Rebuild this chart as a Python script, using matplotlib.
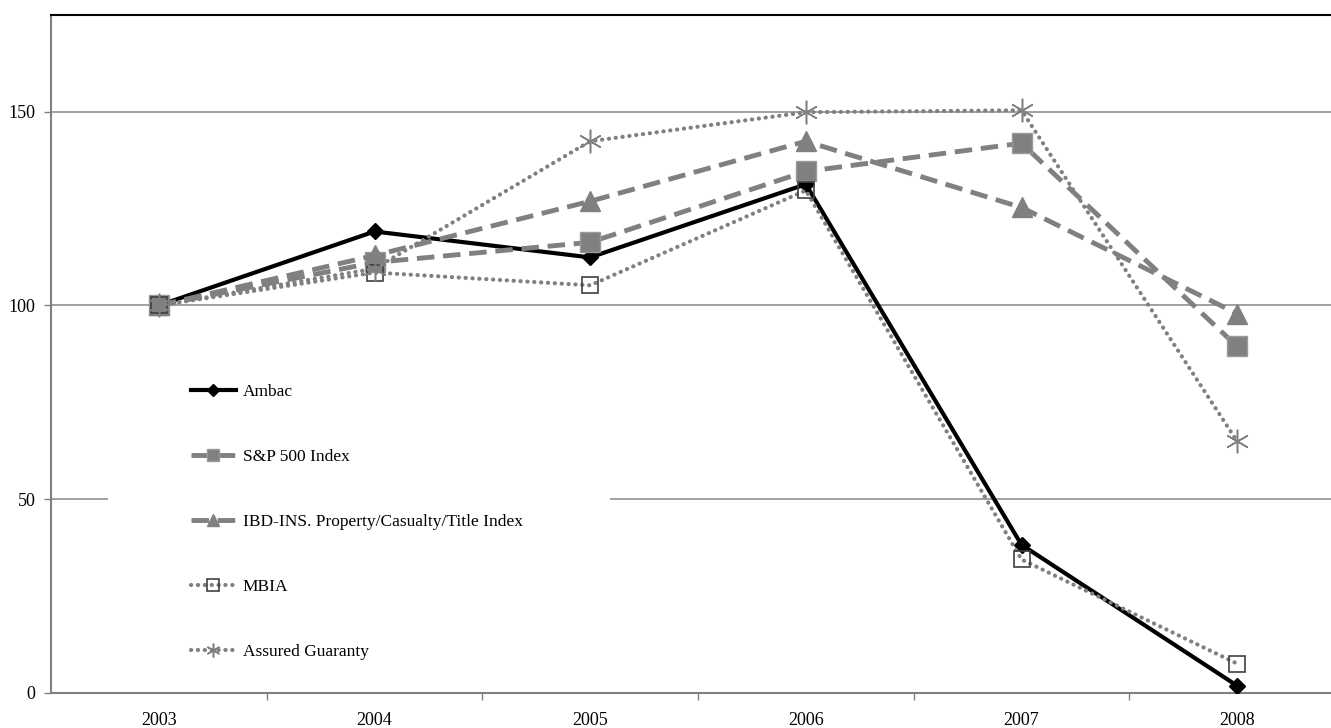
import matplotlib.pyplot as plt
from matplotlib.lines import Line2D
from matplotlib.patches import Rectangle

years = [2003, 2004, 2005, 2006, 2007, 2008]
ambac = [100, 119.1, 112.4, 131.3, 38.2, 1.8]
sp500 = [100, 111.1, 116.3, 134.6, 141.9, 89.4]
ibd = [100, 112.9, 126.9, 142.4, 125.3, 97.9]
mbia = [100, 108.5, 105.2, 129.7, 34.4, 7.5]
assured = [100, 109.5, 142.4, 149.9, 150.4, 64.9]
names = ['Ambac', 'S&P 500 Index', 'IBD-INS. Property/Casualty/Title Index',
         'MBIA', 'Assured Guaranty']

plt.rcParams['font.family'] = ['Liberation Serif', 'DejaVu Serif']

fig = plt.figure(figsize=(13.31, 7.28), dpi=100)
# axes runs slightly past the right edge of the figure like the original
ax = fig.add_axes([51 / 1331, (728 - 692.7) / 728, 1294 / 1331, (692.7 - 15) / 728])
ax.set_axisbelow(True)

gray = '#808080'
dot = (0, (0.05, 1.6))
dash = (0, (3.6, 1.8))

styles = [
    dict(color='black', lw=3, marker='D', mfc='black', mec='black'),
    dict(color=gray, lw=3.5, ls=dash, marker='s', mfc=gray, mec='#9a9a9a'),
    dict(color=gray, lw=3.5, ls=dash, marker='^', mfc=gray, mec=gray),
    dict(color=gray, lw=3, ls=dot, dash_capstyle='round', marker='s', mfc='none',
         mec='#404040', mew=1.2),
    dict(color=gray, lw=3, ls=dot, dash_capstyle='round', marker=(6, 2, 0), mec=gray,
         mew=1.1),
]
plot_ms = [8, 14, 15, 11, 17]
leg_ms = [6, 9, 9, 8, 10]

for vals, st, ms in zip([ambac, sp500, ibd, mbia, assured], styles, plot_ms):
    ax.plot(years, vals, ms=ms, zorder=3, **st)

ax.set_xlim(2002.5, 2008.5)
ax.set_ylim(0, 175)
ax.set_yticks([0, 50, 100, 150])
ax.set_xticks(years)
ax.set_xticks([y + 0.5 for y in years[:-1]], minor=True)
ax.tick_params(axis='x', which='major', length=0, pad=14, labelsize=13)
ax.tick_params(axis='x', which='minor', length=5, width=1, color=gray, direction='out')
ax.tick_params(axis='y', length=5, width=1, color=gray, direction='out', pad=6, labelsize=13)

ax.grid(axis='y', color='#999999', lw=1.3)
for side in ['left', 'bottom']:
    ax.spines[side].set_color(gray)
    ax.spines[side].set_linewidth(1.5)
ax.spines['top'].set_color('black')
ax.spines['top'].set_linewidth(1.5)
ax.spines['right'].set_visible(False)

# white box behind legend hides part of the 50 gridline
ax.add_patch(Rectangle((0.044, 0.008), 0.388, 0.527, transform=ax.transAxes,
                       facecolor='white', edgecolor='none', zorder=1.5))

handles = [Line2D([], [], ms=m, **st) for st, m in zip(styles, leg_ms)]
leg = ax.legend(handles, names, loc='upper left', bbox_to_anchor=(0.108, 0.456),
                frameon=False, fontsize=12.5, labelspacing=2.82, handlelength=2.6,
                handletextpad=0.4, borderpad=0, borderaxespad=0)
leg.set_zorder(2)

fig.savefig('out.png', dpi=100)
